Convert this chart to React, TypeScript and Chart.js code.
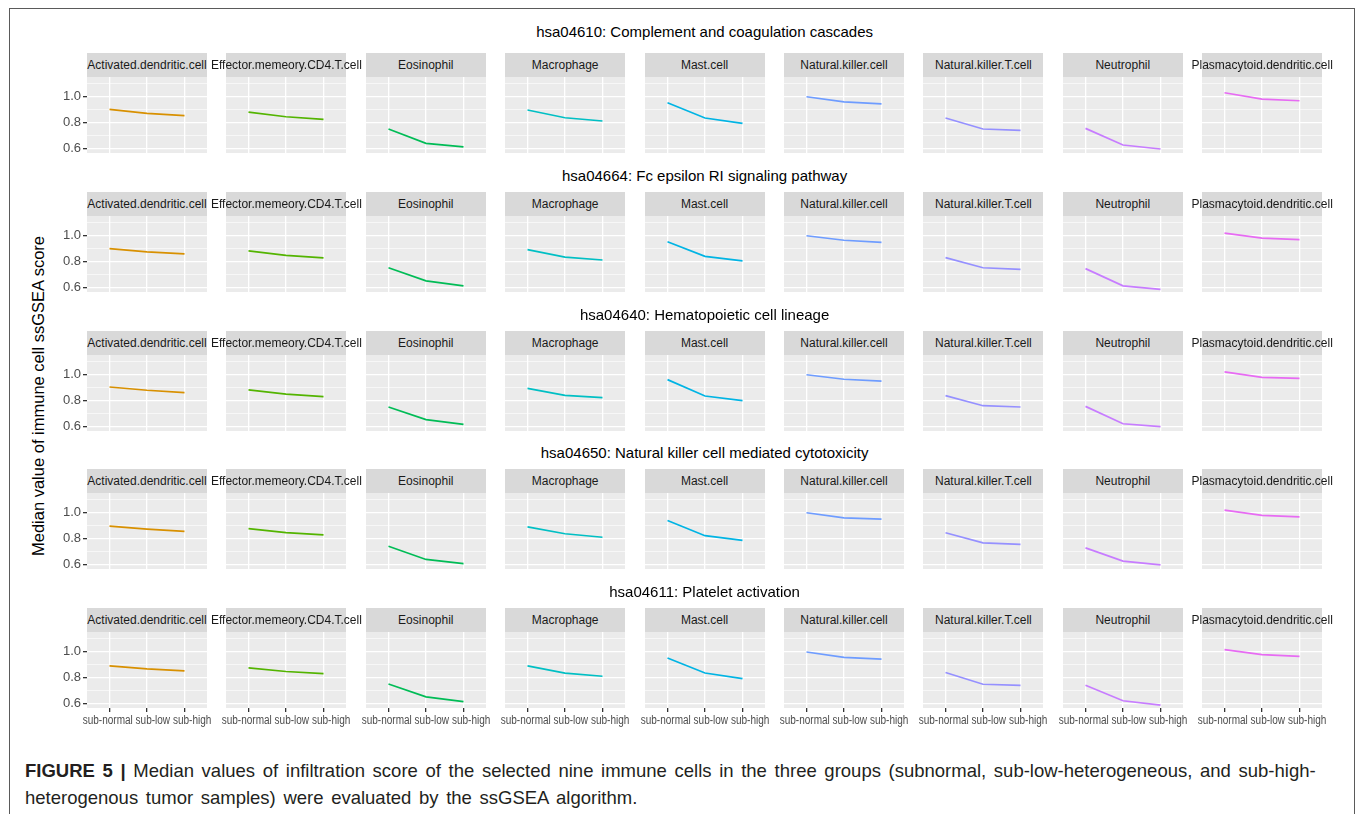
import React, { useEffect, useRef } from "react";
import { Chart, registerables } from "chart.js";
Chart.register(...registerables);

// ---------------- data ----------------
const pathways = [
  "hsa04610: Complement and coagulation cascades",
  "hsa04664: Fc epsilon RI signaling pathway",
  "hsa04640: Hematopoietic cell lineage",
  "hsa04650: Natural killer cell mediated cytotoxicity",
  "hsa04611: Platelet activation",
];
const cells = [
  "Activated.dendritic.cell",
  "Effector.memeory.CD4.T.cell",
  "Eosinophil",
  "Macrophage",
  "Mast.cell",
  "Natural.killer.cell",
  "Natural.killer.T.cell",
  "Neutrophil",
  "Plasmacytoid.dendritic.cell",
];
const groups = ["sub-normal", "sub-low", "sub-high"];
const yTickValues = [0.6, 0.7, 0.8, 0.9, 1.0, 1.1];
const yMajorTicks = [0.6, 0.8, 1.0];
const cellColors = [
  "#D89000",
  "#53B400",
  "#00BC56",
  "#00BFC4",
  "#00B4E4",
  "#6E9CFF",
  "#9590FF",
  "#C77CFF",
  "#E76BF3",
];

const complementValues = [
  [0.902, 0.871, 0.853],
  [0.881, 0.845, 0.825],
  [0.75, 0.639, 0.612],
  [0.897, 0.837, 0.812],
  [0.953, 0.835, 0.794],
  [1.0, 0.96, 0.945],
  [0.835, 0.75, 0.74],
  [0.755, 0.626, 0.595],
  [1.031, 0.982, 0.969],
];
const fcEpsilonValues = [
  [0.9, 0.875, 0.86],
  [0.882, 0.848, 0.828],
  [0.752, 0.65, 0.612],
  [0.893, 0.835, 0.812],
  [0.953, 0.84, 0.805],
  [1.0, 0.965, 0.948],
  [0.83, 0.752, 0.74],
  [0.745, 0.612, 0.585],
  [1.02, 0.982, 0.97],
];
const hematopoieticValues = [
  [0.905, 0.88, 0.862],
  [0.883, 0.85, 0.83],
  [0.75, 0.652, 0.615],
  [0.895, 0.84, 0.822],
  [0.962, 0.835, 0.8],
  [1.0, 0.965, 0.95],
  [0.838, 0.76, 0.75],
  [0.755, 0.62, 0.598],
  [1.022, 0.98, 0.972],
];
const nkCytotoxValues = [
  [0.897, 0.873, 0.855],
  [0.877, 0.846, 0.828],
  [0.74, 0.638, 0.605],
  [0.89, 0.837, 0.81],
  [0.94, 0.822, 0.786],
  [1.0, 0.96, 0.95],
  [0.845, 0.766, 0.755],
  [0.728, 0.625, 0.596],
  [1.02, 0.98, 0.968],
];
const plateletValues = [
  [0.891, 0.867, 0.852],
  [0.875, 0.847, 0.831],
  [0.75, 0.65, 0.613],
  [0.89, 0.835, 0.81],
  [0.952, 0.835, 0.792],
  [0.998, 0.956, 0.943],
  [0.839, 0.748, 0.74],
  [0.74, 0.62, 0.586],
  [1.016, 0.977, 0.964],
];
const valuesByPathway = [
  complementValues,
  fcEpsilonValues,
  hematopoieticValues,
  nkCytotoxValues,
  plateletValues,
];

// ---------------- layout ----------------
const FONT = '"Liberation Sans", Arial, Helvetica, sans-serif';
const PANEL_X0 = 87;
const COL_STEP = 139.4;
const PANEL_W = 120;
const ROW_STEP = 138.75;
const STRIP_TOP0 = 53;
const STRIP_H = 24;
const PLOT_H = 76;
const Y_AXIS_W = 45;
const X_AXIS_H = 26;
const PAD_SIDE = 16;
const PAD_TOP = 4;
const PAD_BOTTOM = 8;
const Y_MIN = 0.564;
const Y_MAX = 1.153;
const X_LABEL_SQUEEZE = 0.835;

const isMajor = (v: number) => yMajorTicks.some((m) => Math.abs(m - v) < 1e-6);

const panelBackground = {
  id: "panelBackground",
  beforeDraw(chart: any) {
    const { ctx, chartArea: a } = chart;
    ctx.save();
    ctx.fillStyle = "#EBEBEB";
    ctx.fillRect(a.left, a.top, a.right - a.left, a.bottom - a.top);
    ctx.restore();
  },
};

function Panel({ row, col }: { row: number; col: number }) {
  const ref = useRef<HTMLCanvasElement>(null);
  const firstCol = col === 0;
  const bottomRow = row === pathways.length - 1;
  const padL = firstCol ? 0 : PAD_SIDE;
  const padB = bottomRow ? 0 : PAD_BOTTOM;
  const axisW = firstCol ? Y_AXIS_W : 0;
  const axisH = bottomRow ? X_AXIS_H : 0;
  const width = padL + axisW + PANEL_W + PAD_SIDE;
  const height = PAD_TOP + PLOT_H + axisH + padB;
  const plotLeft = PANEL_X0 + col * COL_STEP;
  const plotTop = STRIP_TOP0 + STRIP_H + row * ROW_STEP;

  useEffect(() => {
    const vals = valuesByPathway[row][col];
    // condensed x tick labels, laid out as one run centred on the middle tick
    const narrowXLabels = {
      id: "narrowXLabels",
      afterDraw(chart: any) {
        if (!bottomRow) return;
        const { ctx, chartArea, scales } = chart;
        ctx.save();
        ctx.font = `12px ${FONT}`;
        ctx.fillStyle = "#4D4D4D";
        ctx.textAlign = "left";
        ctx.textBaseline = "top";
        const space = ctx.measureText(" ").width;
        const widths = groups.map((g) => ctx.measureText(g).width);
        const total =
          (widths.reduce((a, b) => a + b, 0) + space * (groups.length - 1)) * X_LABEL_SQUEEZE;
        let x = scales.x.getPixelForValue((groups.length - 1) / 2) - total / 2;
        groups.forEach((g, i) => {
          ctx.save();
          ctx.translate(x, chartArea.bottom + 7);
          ctx.scale(X_LABEL_SQUEEZE, 1);
          ctx.fillText(g, 0, 0);
          ctx.restore();
          x += (widths[i] + space) * X_LABEL_SQUEEZE;
        });
        ctx.restore();
      },
    };
    const chart = new Chart(ref.current as HTMLCanvasElement, {
      type: "line",
      data: {
        datasets: [
          {
            data: vals.map((v, i) => ({ x: i, y: v })),
            borderColor: cellColors[col],
            borderWidth: 1.7,
            pointRadius: 0,
            tension: 0,
            fill: false,
          },
        ],
      },
      options: {
        responsive: false,
        animation: false,
        maintainAspectRatio: false,
        layout: { padding: { left: padL, right: PAD_SIDE, top: PAD_TOP, bottom: padB } },
        plugins: {
          legend: { display: false },
          tooltip: { enabled: false },
          title: { display: false },
        },
        scales: {
          x: {
            type: "linear",
            min: -0.6,
            max: 2.6,
            afterBuildTicks: (s: any) => {
              s.ticks = groups.map((_, i) => ({ value: i }));
            },
            afterFit: (s: any) => {
              s.height = axisH;
              s.paddingLeft = 0;
              s.paddingRight = 0;
            },
            ticks: {
              display: false,
              autoSkip: false,
              maxRotation: 0,
              minRotation: 0,
            },
            grid: {
              color: "#FFFFFF",
              lineWidth: 1.3,
              drawTicks: bottomRow,
              tickLength: 4,
              tickColor: "#333333",
            },
            border: { display: false },
          },
          y: {
            type: "linear",
            min: Y_MIN,
            max: Y_MAX,
            afterBuildTicks: (s: any) => {
              s.ticks = yTickValues.map((v) => ({ value: v }));
            },
            afterFit: (s: any) => {
              s.width = axisW;
              s.paddingTop = 0;
              s.paddingBottom = 0;
            },
            ticks: {
              display: firstCol,
              autoSkip: false,
              padding: 2,
              color: "#4D4D4D",
              font: { family: FONT, size: 13 },
              callback: (v: any) => (isMajor(Number(v)) ? Number(v).toFixed(1) : ""),
            },
            grid: {
              color: "#FFFFFF",
              lineWidth: (c: any) => (isMajor(c.tick?.value ?? 0) ? 1.3 : 0.6),
              drawTicks: firstCol,
              tickLength: 4,
              tickColor: (c: any) => (isMajor(c.tick?.value ?? 0) ? "#333333" : "rgba(0,0,0,0)"),
            },
            border: { display: false },
          },
        },
      },
      plugins: [panelBackground, narrowXLabels],
    });
    return () => chart.destroy();
  }, [row, col]);

  return (
    <canvas
      ref={ref}
      width={width}
      height={height}
      style={{
        position: "absolute",
        left: plotLeft - axisW - padL,
        top: plotTop - PAD_TOP,
        width,
        height,
      }}
    />
  );
}

export default function App() {
  return (
    <div
      style={{
        position: "fixed",
        left: 0,
        top: 0,
        width: 1355,
        height: 814,
        overflow: "hidden",
        background: "#FFFFFF",
        fontFamily: FONT,
      }}
    >
      <div
        style={{
          position: "absolute",
          left: 9,
          top: 8,
          width: 1346,
          height: 900,
          boxSizing: "border-box",
          border: "1px solid #5A5A5A",
        }}
      />
      <div
        style={{
          position: "absolute",
          left: 38,
          top: 396,
          transform: "translate(-50%, -50%) rotate(-90deg)",
          whiteSpace: "nowrap",
          fontSize: 16.5,
          color: "#000000",
        }}
      >
        Median value of immune cell ssGSEA score
      </div>
      {pathways.map((p, r) => (
        <React.Fragment key={p}>
          <div
            style={{
              position: "absolute",
              left: PANEL_X0 + (8 * COL_STEP + PANEL_W) / 2,
              top: 31 + (r > 0 ? 5 : 0) + r * ROW_STEP,
              transform: "translate(-50%, -50%)",
              whiteSpace: "nowrap",
              fontSize: 15,
              color: "#000000",
            }}
          >
            {p}
          </div>
          {cells.map((c, k) => (
            <React.Fragment key={c}>
              <div
                style={{
                  position: "absolute",
                  left: PANEL_X0 + k * COL_STEP,
                  top: STRIP_TOP0 + r * ROW_STEP,
                  width: PANEL_W,
                  height: STRIP_H,
                  background: "#D9D9D9",
                  display: "flex",
                  alignItems: "center",
                  justifyContent: "center",
                  whiteSpace: "nowrap",
                  fontSize: 12,
                  color: "#1A1A1A",
                }}
              >
                <span>{c}</span>
              </div>
              <Panel row={r} col={k} />
            </React.Fragment>
          ))}
        </React.Fragment>
      ))}
      <div
        style={{
          position: "absolute",
          left: 25,
          top: 757,
          fontSize: 18.5,
          lineHeight: "27px",
          wordSpacing: 2.5,
          color: "#231F20",
          whiteSpace: "nowrap",
        }}
      >
        <b>FIGURE 5 |</b> Median values of infiltration score of the selected nine immune cells in the three groups (subnormal, sub-low-heterogeneous, and sub-high-
        <br />
        heterogenous tumor samples) were evaluated by the ssGSEA algorithm.
      </div>
    </div>
  );
}
